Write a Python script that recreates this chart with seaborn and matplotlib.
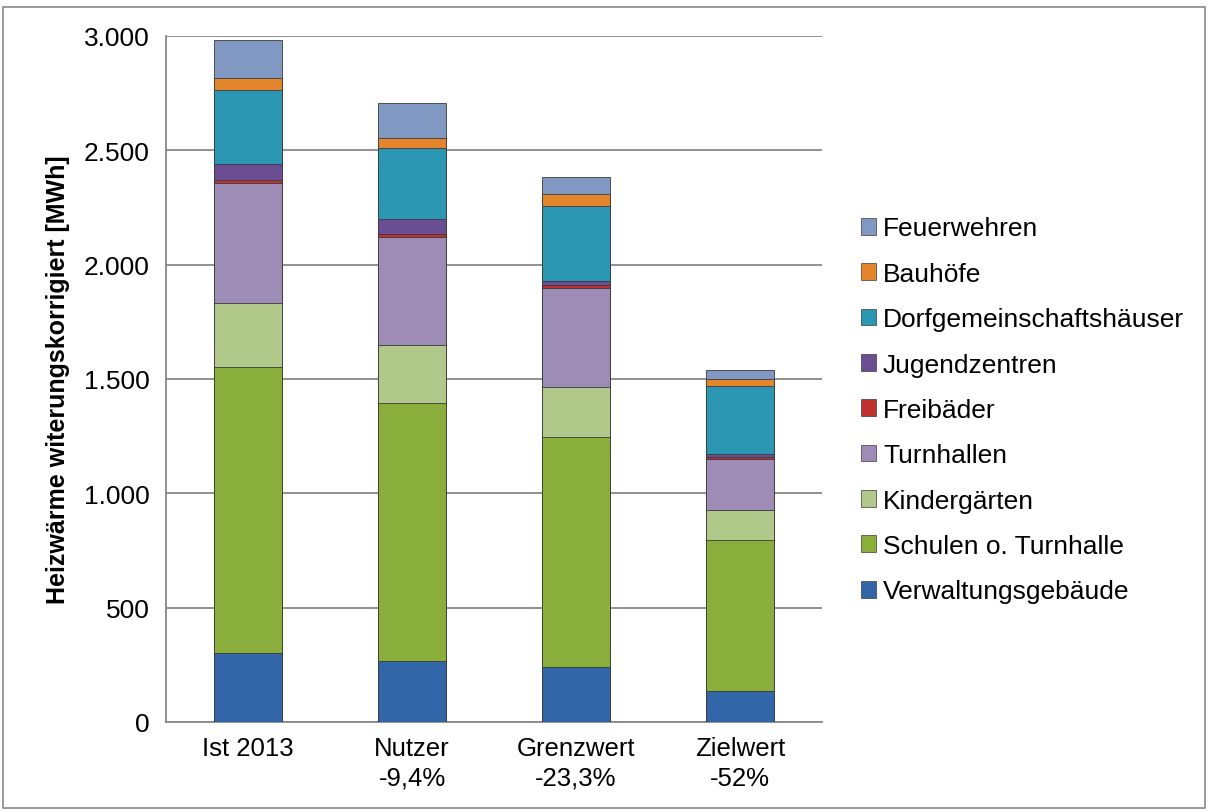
import numpy as np
import pandas as pd
import matplotlib
matplotlib.use("Agg")
import matplotlib.pyplot as plt
import seaborn as sns
from matplotlib import font_manager
from matplotlib.patches import Patch, Rectangle

# Kategorien (x-Achse)
categories = ["Ist 2013", "Nutzer\n-9,4%", "Grenzwert\n-23,3%", "Zielwert\n-52%"]

# Werte je Gebäudetyp in MWh (von unten nach oben gestapelt)
verwaltung = [300, 268, 242, 137]
schulen = [1252, 1127, 1003, 659]
kindergaerten = [280, 254, 219, 131]
turnhallen = [525, 473, 434, 225]
freibaeder = [12, 12, 13, 8]
jugendzentren = [72, 66, 19, 12]
dorfgemeinschaft = [325, 309, 328, 296]
bauhoefe = [50, 43, 51, 32]
feuerwehren = [167, 154, 73, 41]

series_names = ["Verwaltungsgebäude", "Schulen o. Turnhalle", "Kindergärten",
                "Turnhallen", "Freibäder", "Jugendzentren",
                "Dorfgemeinschaftshäuser", "Bauhöfe", "Feuerwehren"]
series_values = [verwaltung, schulen, kindergaerten, turnhallen, freibaeder,
                 jugendzentren, dorfgemeinschaft, bauhoefe, feuerwehren]
colors = ["#3366A8", "#8AAE3C", "#B0C98A", "#9C8CB6", "#C0302E",
          "#6B4D94", "#2B97B2", "#E5852B", "#8098C2"]

sns.set_style("white")
installed = {f.name for f in font_manager.fontManager.ttflist}
narrow = "Liberation Sans Narrow" if "Liberation Sans Narrow" in installed else "Liberation Sans"
plt.rcParams["font.family"] = ["Liberation Sans", "DejaVu Sans"]
plt.rcParams["text.color"] = "black"
plt.rcParams["axes.labelcolor"] = "black"
plt.rcParams["xtick.color"] = "black"
plt.rcParams["ytick.color"] = "black"

df = pd.DataFrame(dict(zip(series_names, series_values)), index=categories)
cum = df.cumsum(axis=1)

fig = plt.figure(figsize=(12.08, 8.12), dpi=100)
ax = fig.add_axes([166 / 1208, 1 - 723 / 812, (822 - 166) / 1208, (723 - 37) / 812])

# von oben nach unten zeichnen, damit die Stapel entstehen
for name, col in zip(series_names[::-1], colors[::-1]):
    sns.barplot(x=list(categories), y=cum[name].values, color=col, saturation=1,
                width=0.41, edgecolor="#3a3a3a", linewidth=0.6, ax=ax, zorder=3)

ax.set_ylim(0, 3000)
ax.set_xlim(-0.5, 3.5)
ax.set_yticks(np.arange(0, 3001, 500))
ax.set_yticklabels(["0", "500", "1.000", "1.500", "2.000", "2.500", "3.000"],
                   fontsize=19)
ax.grid(axis="y", color="#888888", linewidth=1.3, zorder=0)
ax.set_axisbelow(True)

for s in ["top", "right"]:
    ax.spines[s].set_visible(False)
for s in ["left", "bottom"]:
    ax.spines[s].set_color("#888888")
    ax.spines[s].set_linewidth(1.3)

ax.tick_params(axis="y", length=6, color="#888888", labelcolor="black",
               width=1.3, pad=6)
ax.set_xticks([0, 1, 2, 3])
ax.set_xticklabels(categories, fontsize=18.5, family=narrow, linespacing=1.3)
ax.set_xticks(np.arange(-0.5, 3.6, 1), minor=True)
ax.tick_params(axis="x", which="major", length=0, pad=10, labelcolor="black")
ax.tick_params(axis="x", which="minor", length=6, color="#888888", width=1.3)

ax.set_ylabel("Heizwärme witerungskorrigiert [MWh]", fontsize=18,
              fontweight="bold", family=narrow, labelpad=10)

handles = [Patch(facecolor=c, edgecolor="#3a3a3a", linewidth=0.5)
           for c in colors[::-1]]
fig.legend(handles, series_names[::-1], loc="center left",
           bbox_to_anchor=(850 / 1208, 1 - 411 / 812), frameon=False,
           fontsize=19, handlelength=0.6, handleheight=0.6,
           handletextpad=0.25, labelspacing=0.81, borderaxespad=0.0)

fig.patches.append(Rectangle((3 / 1208, 3 / 812), 1 - 6 / 1208, 1 - 11 / 812,
                             transform=fig.transFigure, fill=False,
                             edgecolor="#888888", linewidth=1.2))

fig.savefig("out.png", dpi=100)
